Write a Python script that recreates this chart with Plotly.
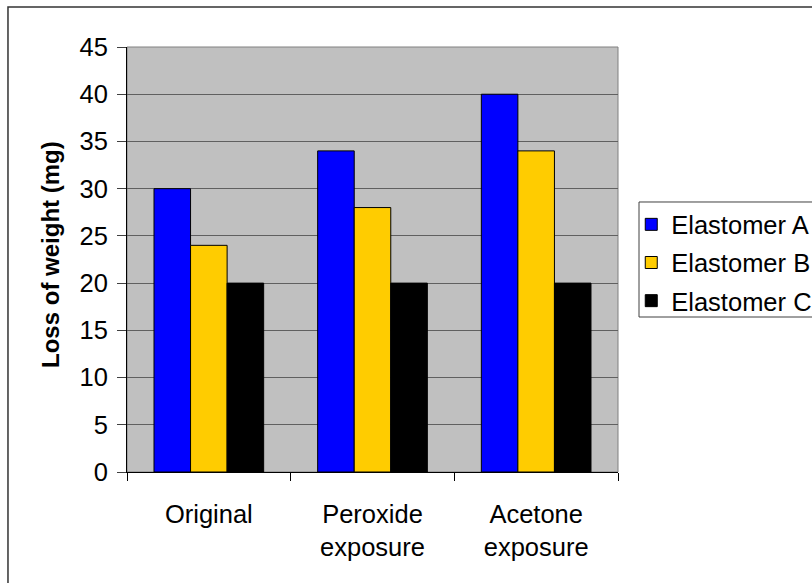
import plotly.graph_objects as go

# Categories and measured weight loss per elastomer
categories = ["Original", "Peroxide<br>exposure", "Acetone<br>exposure"]
elastomer_a = [30, 34, 40]
elastomer_b = [24, 28, 34]
elastomer_c = [20, 20, 20]
series_names = ["Elastomer A", "Elastomer B", "Elastomer C"]
series_colors = ["#0000FF", "#FFCC00", "#000000"]
y_ticks = [0, 5, 10, 15, 20, 25, 30, 35, 40, 45]
y_title = "Loss of weight (mg)"

FONT = "Liberation Sans, Arial, sans-serif"
FS = 25.5

fig = go.Figure()
for name, vals, color in zip(series_names, [elastomer_a, elastomer_b, elastomer_c], series_colors):
    fig.add_trace(go.Bar(
        x=categories, y=vals, name=name, legendgroup=name,
        marker=dict(color=color, line=dict(color="#000000", width=1)),
    ))

# chart-area frame (left and top edges visible)
fig.add_shape(type="rect", xref="paper", yref="paper",
              x0=-0.2424, x1=2.0, y0=-1.0, y1=1.0941,
              line=dict(color="#333333", width=1.5), fillcolor="rgba(0,0,0,0)")
# plot-area border
fig.add_shape(type="rect", xref="paper", yref="paper",
              x0=0, x1=1, y0=0, y1=1,
              line=dict(color="#808080", width=1), fillcolor="rgba(0,0,0,0)",
              layer="below")
# legend frame
fig.add_shape(type="rect", xref="paper", yref="paper",
              x0=1.0428, x1=1.6, y0=0.3647, y1=0.6353,
              line=dict(color="#404040", width=1), fillcolor="rgba(0,0,0,0)",
              layer="above")

# vertical axis title
fig.add_annotation(
    text="<b>" + y_title + "</b>", textangle=-90, showarrow=False,
    xref="paper", yref="paper", x=-0.1548, y=0.513,
    xanchor="center", yanchor="middle",
    font=dict(family=FONT, size=24, color="#000000"),
)

fig.update_layout(
    width=812, height=583,
    margin=dict(l=127, r=194, t=47, b=111, autoexpand=False),
    paper_bgcolor="#FFFFFF",
    plot_bgcolor="#C0C0C0",
    barmode="group", bargap=0.33, bargroupgap=0,
    font=dict(family=FONT, size=FS, color="#000000"),
    showlegend=True,
    legend=dict(
        x=1.027, y=0.637, xanchor="left", yanchor="top",
        bgcolor="rgba(255,255,255,0)", borderwidth=0,
        font=dict(family=FONT, size=FS, color="#000000"),
        traceorder="grouped", tracegroupgap=2,
        itemwidth=30,
    ),
    xaxis=dict(
        showgrid=False, showline=True, linecolor="#000000", linewidth=1,
        ticks="outside", tickson="boundaries", ticklen=8, tickcolor="#000000",
        tickfont=dict(family=FONT, size=FS, color="#000000"),
        ticklabelstandoff=19,
    ),
    yaxis=dict(
        range=[0, 45], tickvals=y_ticks, showgrid=True, gridcolor="#606060", gridwidth=1,
        showline=True, linecolor="#000000", linewidth=1,
        ticks="outside", ticklen=9, tickcolor="#404040",
        tickfont=dict(family=FONT, size=FS, color="#000000"),
        ticklabelstandoff=4,
        zeroline=False,
    ),
)

fig.write_html("out.html")
